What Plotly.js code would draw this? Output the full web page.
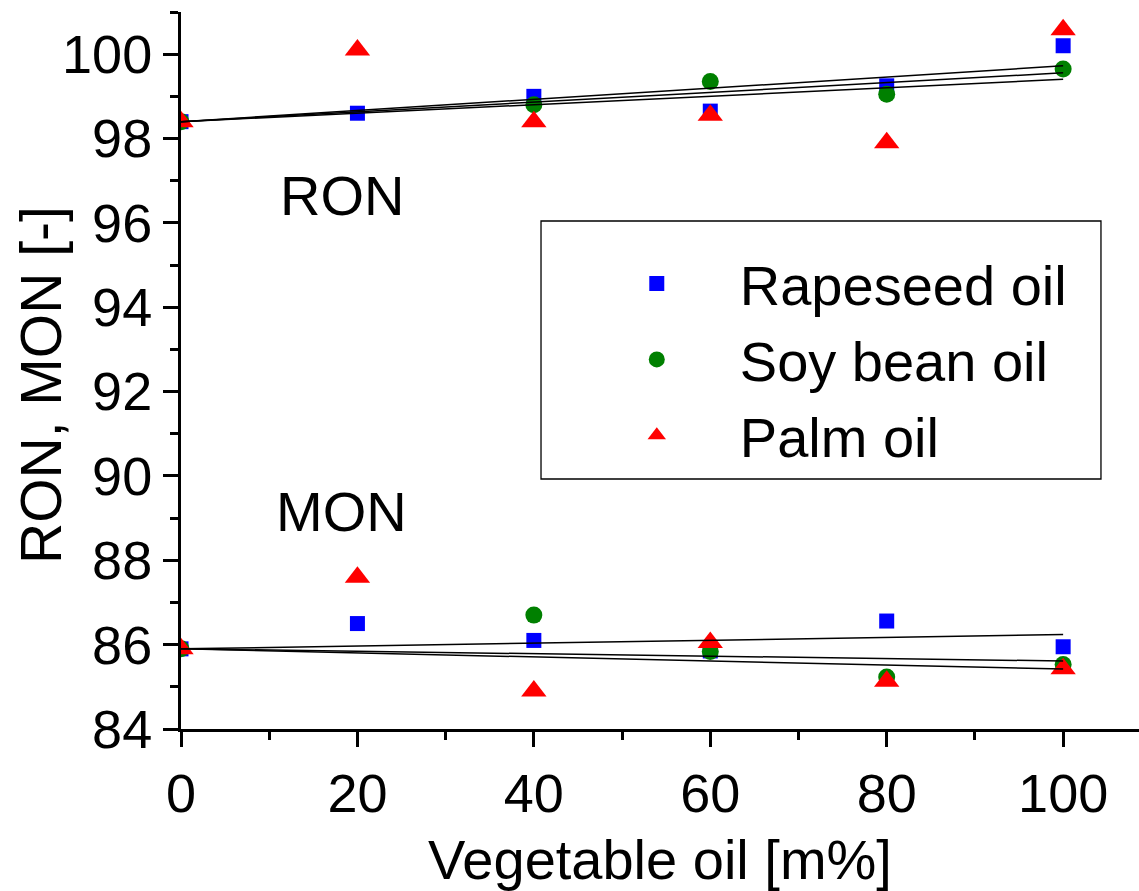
<!DOCTYPE html>
<html><head><meta charset="utf-8">
<script src="https://cdn.plot.ly/plotly-3.0.1.min.js"></script>
<style>html,body{margin:0;padding:0;background:#fff}</style>
</head><body>
<div id="chart" style="width:1139px;height:891px"></div>
<script>
// ---- data ----
const oilContent = [0, 20, 40, 60, 80, 100];
const ronRapeseed = [98.4, 98.6, 99.0, 98.65, 99.25, 100.2];
const ronSoy      = [98.4, null, 98.8, 99.35, 99.05, 99.65];
const ronPalm     = [98.4, 100.1, 98.4, 98.55, 97.9, 100.58];
const monRapeseed = [85.9, 86.5, 86.1, 85.85, 86.56, 85.95];
const monSoy      = [85.9, null, 86.7, 85.84, 85.23, 85.53];
const monPalm     = [85.9, 87.6, 84.9, 86.05, 85.13, 85.43];
const seriesNames = ['Rapeseed oil', 'Soy bean oil', 'Palm oil'];
const xTickVals = [0, 20, 40, 60, 80, 100];
const yTickVals = [84, 86, 88, 90, 92, 94, 96, 98, 100];
const groupLabels = ['RON', 'MON'];
const xTitle = 'Vegetable oil [m%]';
const yTitle = 'RON, MON [-]';

// ---- styles ----
const FONT = 'Liberation Sans, Arial, sans-serif';
const colors = ['#0000ff', '#008000', '#ff0000'];
const symbols = ['square', 'circle', 'triangle-up'];
const sizes = [15, 17, 22];

// linear fit forced through the first (0 %) point
function fitLine(xs, ys) {
  const x0 = xs[0], y0 = ys[0];
  let sxy = 0, sxx = 0;
  xs.forEach((x, i) => {
    if (ys[i] === null) return;
    sxy += (x - x0) * (ys[i] - y0);
    sxx += (x - x0) * (x - x0);
  });
  const k = sxy / sxx;
  const xEnd = xs[xs.length - 1];
  return { x: [x0, xEnd], y: [y0, y0 + k * (xEnd - x0)] };
}

const ronSets = [ronRapeseed, ronSoy, ronPalm];
const monSets = [monRapeseed, monSoy, monPalm];

const traces = [];
seriesNames.forEach((name, i) => {
  traces.push({
    type: 'scatter', mode: 'markers', name: name,
    x: oilContent.concat(oilContent),
    y: ronSets[i].concat(monSets[i]),
    marker: { color: colors[i], symbol: symbols[i], size: sizes[i], line: { width: 0 } },
    cliponaxis: true
  });
});
[ronSets, monSets].forEach(sets => {
  sets.forEach(ys => {
    const f = fitLine(oilContent, ys);
    traces.push({
      type: 'scatter', mode: 'lines', showlegend: false, hoverinfo: 'skip',
      x: f.x, y: f.y, line: { color: '#000', width: 1.5 }
    });
  });
});

const layout = {
  width: 1139, height: 891,
  margin: { l: 181, r: 0, t: 12, b: 162 },
  paper_bgcolor: '#fff', plot_bgcolor: '#fff',
  font: { family: FONT, color: '#000', size: 54 },
  showlegend: true,
  legend: {
    x: 0.41, y: 0.681, xanchor: 'left', yanchor: 'top',
    bgcolor: 'rgba(0,0,0,0)', borderwidth: 0,
    font: { family: FONT, size: 56, color: '#000' },
    itemwidth: 156, traceorder: 'normal'
  },
  xaxis: {
    range: [0, 108.6], showgrid: false, zeroline: false,
    showline: true, linecolor: '#000', linewidth: 3, mirror: false,
    ticks: 'outside', ticklen: 15, tickwidth: 3, tickcolor: '#000',
    tickmode: 'array', tickvals: xTickVals, ticktext: xTickVals.map(String),
    tickfont: { family: FONT, size: 54, color: '#000' },
    minor: { dtick: 10, tick0: 0, ticks: 'outside', ticklen: 8, tickwidth: 3, tickcolor: '#000', showgrid: false },
    title: { text: xTitle, font: { family: FONT, size: 56, color: '#000' }, standoff: 20 }
  },
  yaxis: {
    range: [84, 101], showgrid: false, zeroline: false,
    showline: true, linecolor: '#000', linewidth: 3, mirror: false,
    ticks: 'outside', ticklen: 15, tickwidth: 3, tickcolor: '#000',
    tickmode: 'array', tickvals: yTickVals, ticktext: yTickVals.map(String),
    tickfont: { family: FONT, size: 54, color: '#000' },
    minor: { dtick: 1, tick0: 84, ticks: 'outside', ticklen: 8, tickwidth: 3, tickcolor: '#000', showgrid: false }
  },
  shapes: [{
    type: 'rect', xref: 'paper', yref: 'paper',
    x0: 0.3758, x1: 0.9603, y0: 0.3487, y1: 0.7085,
    line: { color: '#000', width: 1.3 }, fillcolor: 'rgba(0,0,0,0)', layer: 'above'
  }],
  annotations: [
    { text: yTitle, textangle: -90, xref: 'paper', yref: 'paper', x: -0.1461, y: 0.4798,
      xanchor: 'center', yanchor: 'middle', showarrow: false,
      font: { family: FONT, size: 57, color: '#000' } },
    { text: groupLabels[0], x: 18.2, y: 96.65, xref: 'x', yref: 'y', showarrow: false,
      font: { family: FONT, size: 56, color: '#000' } },
    { text: groupLabels[1], x: 18.2, y: 89.15, xref: 'x', yref: 'y', showarrow: false,
      font: { family: FONT, size: 56, color: '#000' } }
  ]
};

Plotly.newPlot('chart', traces, layout, { displayModeBar: false, staticPlot: true });
</script>
</body></html>
